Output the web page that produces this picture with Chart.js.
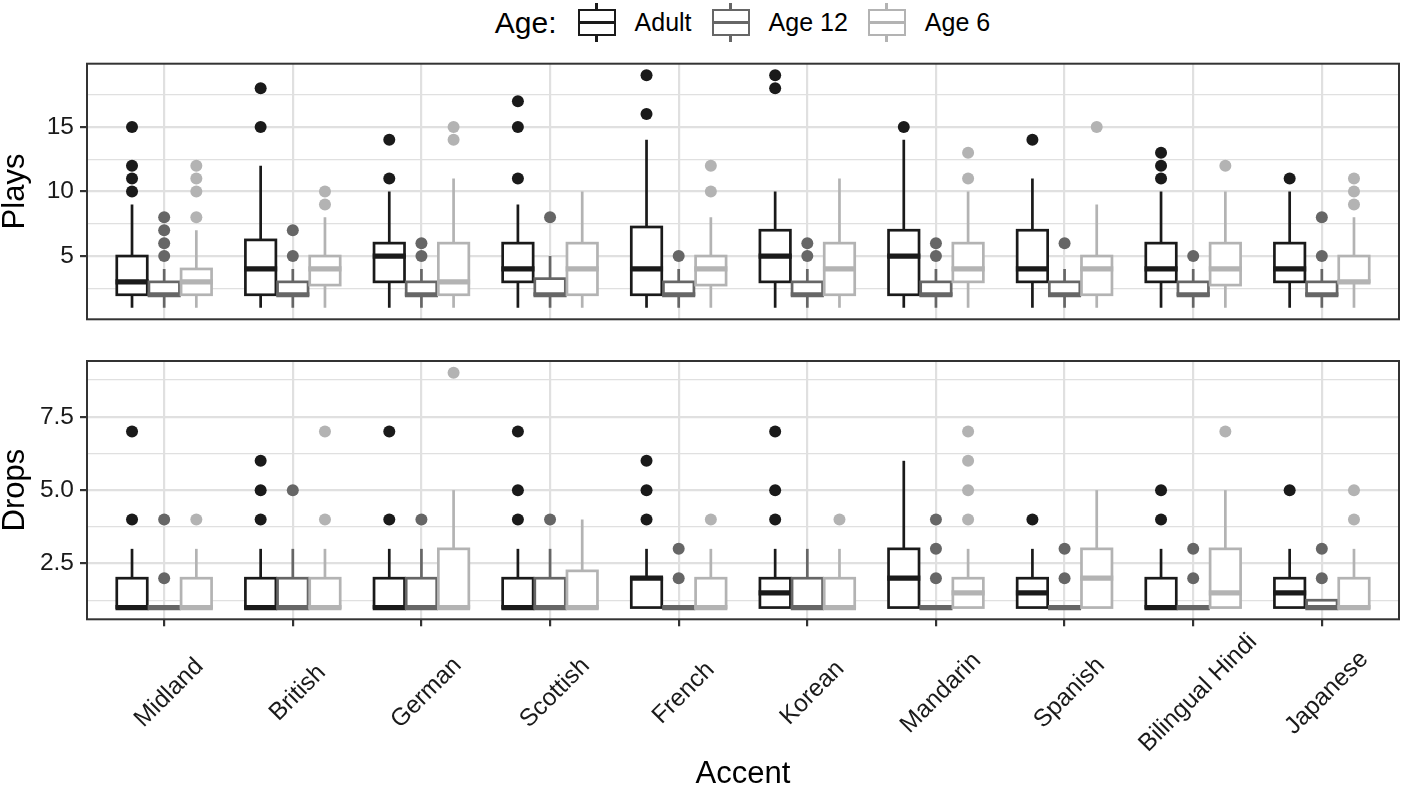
<!DOCTYPE html>
<html>
<head>
<meta charset="utf-8">
<script src="https://cdn.jsdelivr.net/npm/chart.js@4.4.1/dist/chart.umd.min.js"></script>
<style>
  html, body { margin: 0; padding: 0; background: #fff; }
  #wrap { position: relative; width: 1405px; height: 793px; font-family: "Liberation Sans", Arial, sans-serif; }
  #playsChart { position: absolute; left: 0; top: 0; }
  #dropsChart { position: absolute; left: 0; top: 340px; }
  #legend { position: absolute; left: 0; top: 3px; width: 1405px; height: 39px; box-sizing: border-box;
            padding-left: 80px; display: flex; align-items: center; justify-content: center; }
  #legend .title { font-size: 30px; margin-right: 21px; }
  #legend .label { font-size: 25px; margin-right: 20px; }
  #legend .label:last-child { margin-right: 0; }
  .glyph { position: relative; width: 38px; height: 39px; margin-right: 19px; }
  .glyph .box { position: absolute; left: 0; top: 6px; width: 38px; height: 27px; box-sizing: border-box; border: 2.7px solid; background: #fff; }
  .glyph .med { position: absolute; left: 0; top: 18.2px; width: 38px; height: 2.7px; }
  .glyph .wt { position: absolute; left: 17.65px; top: 0; width: 2.7px; height: 6px; }
  .glyph .wb { position: absolute; left: 17.65px; top: 33px; width: 2.7px; height: 6px; }
</style>
</head>
<body>
<div id="wrap">
  <div id="legend"></div>
  <canvas id="playsChart" width="1405" height="340"></canvas>
  <canvas id="dropsChart" width="1405" height="453"></canvas>
</div>
<script>
const accents = ["Midland", "British", "German", "Scottish", "French", "Korean", "Mandarin", "Spanish", "Bilingual Hindi", "Japanese"];
const ageGroups = ["Adult", "Age 12", "Age 6"];
const ageColors = ["#1a1a1a", "#666666", "#b3b3b3"];

// box stats per accent: [lower whisker, Q1, median, Q3, upper whisker]
const playsAdult = [[1,2,3,5,9], [1,2,4,6.25,12], [1,3,5,6,10], [1,3,4,6,9], [1,2,4,7.25,14], [1,3,5,7,10], [1,2,5,7,14], [1,3,4,7,11], [1,3,4,6,10], [1,3,4,6,10]];
const playsAge12 = [[1,2,2,3,4], [1,2,2,3,4], [1,2,2,3,4], [1,2,2,3.25,5], [1,2,2,3,4], [1,2,2,3,4], [1,2,2,3,4], [1,2,2,3,4], [1,2,2,3,4], [1,2,2,3,4]];
const playsAge6 = [[1,2,3,4,7], [1,2.75,4,5,8], [1,2,3,6,11], [1,2,4,6,10], [1,2.75,4,5,8], [1,2,4,6,11], [1,3,4,6,10], [1,2,4,5,9], [1,2.75,4,6,10], [1,3,3,5,8]];
const playsAdultOut = [[15,12,11,10], [18,15], [14,11], [17,15,11], [19,16], [19,18], [15], [14], [13,12,11], [11]];
const playsAge12Out = [[8,7,6,5], [7,5], [6,5], [8], [5], [6,5], [6,5], [6], [5], [8,5]];
const playsAge6Out = [[12,11,10,8], [10,9], [15,14], [], [12,10], [], [13,11], [15], [12], [11,10,9]];

const dropsAdult = [[1,1,1,2,3], [1,1,1,2,3], [1,1,1,2,3], [1,1,1,2,3], [1,1,2,2,3], [1,1,1.5,2,3], [1,1,2,3,6], [1,1,1.5,2,3], [1,1,1,2,3], [1,1,1.5,2,3]];
const dropsAge12 = [[1,1,1,1,1], [1,1,1,2,3], [1,1,1,2,3], [1,1,1,2,3], [1,1,1,1,1], [1,1,1,2,3], [1,1,1,1,1], [1,1,1,1,1], [1,1,1,1,1], [1,1,1,1.25,1.25]];
const dropsAge6 = [[1,1,1,2,3], [1,1,1,2,3], [1,1,1,3,5], [1,1,1,2.25,4], [1,1,1,2,3], [1,1,1,2,3], [1,1,1.5,2,3], [1,1,2,3,5], [1,1,1.5,3,5], [1,1,1,2,3]];
const dropsAdultOut = [[7,4], [6,5,4], [7,4], [7,5,4], [6,5,4], [7,5,4], [], [4], [5,4], [5]];
const dropsAge12Out = [[4,2], [5], [4], [4], [3,2], [], [4,3,2], [3,2], [3,2], [3,2]];
const dropsAge6Out = [[4], [7,4], [9], [], [4], [4], [7,6,5,4], [], [7], [5,4]];

const playsTickLabels = [5, 10, 15];
const dropsTickLabels = [2.5, 5.0, 7.5];

const FONT = '"Liberation Sans", Arial, sans-serif';
const dodge = [-0.25, 0, 0.25];
const boxWidth = 0.237;

// legend
const legend = document.getElementById("legend");
legend.innerHTML = '<span class="title">Age:</span>' + ageGroups.map((g, i) =>
  '<div class="glyph"><div class="wt" style="background:' + ageColors[i] + '"></div>' +
  '<div class="wb" style="background:' + ageColors[i] + '"></div>' +
  '<div class="box" style="border-color:' + ageColors[i] + '"></div>' +
  '<div class="med" style="background:' + ageColors[i] + '"></div></div>' +
  '<span class="label">' + g + '</span>').join("");

const boxPlugin = {
  id: "boxes",
  beforeDatasetsDraw(chart, args, opts) {
    const { ctx, scales: { x, y } } = chart;
    const half = x.getPixelForValue(boxWidth / 2) - x.getPixelForValue(0);
    opts.groups.forEach((rows, g) => {
      rows.forEach((s, i) => {
        const cx = x.getPixelForValue(i + dodge[g]);
        const [lo, q1, med, q3, hi] = s.map(v => y.getPixelForValue(v));
        ctx.save();
        ctx.strokeStyle = ageColors[g];
        ctx.lineWidth = 2.7;
        ctx.beginPath();
        ctx.moveTo(cx, lo); ctx.lineTo(cx, q1);
        ctx.moveTo(cx, q3); ctx.lineTo(cx, hi);
        ctx.stroke();
        ctx.fillStyle = "#fff";
        ctx.fillRect(cx - half, q3, 2 * half, q1 - q3);
        ctx.strokeRect(cx - half, q3, 2 * half, q1 - q3);
        ctx.lineWidth = 5.2;
        ctx.beginPath();
        ctx.moveTo(cx - half - 1.3, med); ctx.lineTo(cx + half + 1.3, med);
        ctx.stroke();
        ctx.restore();
      });
    });
  }
};

const framePlugin = {
  id: "frame",
  afterDatasetsDraw(chart) {
    const { ctx, chartArea: a } = chart;
    ctx.save();
    ctx.strokeStyle = "#333333";
    ctx.lineWidth = 2;
    ctx.strokeRect(a.left, a.top, a.right - a.left, a.bottom - a.top);
    ctx.restore();
  }
};

const xLabelPlugin = {
  id: "xLabels",
  afterDraw(chart) {
    const { ctx, scales: { x } } = chart;
    ctx.save();
    ctx.fillStyle = "#1a1a1a";
    ctx.font = "24.5px " + FONT;
    ctx.textAlign = "center";
    ctx.textBaseline = "middle";
    accents.forEach((name, i) => {
      ctx.save();
      ctx.translate(x.getPixelForValue(i) + 5, 353);
      ctx.rotate(-Math.PI / 4);
      ctx.fillText(name, 0, 0);
      ctx.restore();
    });
    ctx.fillStyle = "#000";
    ctx.font = "31px " + FONT;
    ctx.fillText("Accent", (chart.chartArea.left + chart.chartArea.right) / 2, 434);
    ctx.restore();
  }
};

function outlierPoints(outs, g) {
  const pts = [];
  outs.forEach((vals, i) => vals.forEach(v => pts.push({ x: i + dodge[g], y: v })));
  return pts;
}

function makeChart(id, cfg) {
  const datasets = cfg.outliers.map((outs, g) => ({
    label: ageGroups[g],
    data: outlierPoints(outs, g),
    backgroundColor: ageColors[g],
    borderWidth: 0,
    pointRadius: 6,
    pointHoverRadius: 6
  }));
  return new Chart(document.getElementById(id), {
    type: "scatter",
    data: { datasets },
    plugins: cfg.bottom ? [boxPlugin, framePlugin, xLabelPlugin] : [boxPlugin, framePlugin],
    options: {
      responsive: false,
      animation: false,
      layout: { padding: { top: cfg.padTop, right: 4, left: 0, bottom: 0 } },
      plugins: {
        legend: { display: false },
        tooltip: { enabled: false },
        boxes: { groups: cfg.groups }
      },
      scales: {
        x: {
          type: "linear",
          min: -0.6,
          max: 9.6,
          border: { display: false },
          grid: {
            color: "#e0e0e0",
            lineWidth: 2.2,
            drawTicks: cfg.bottom,
            tickLength: 7,
            tickColor: "#333333",
            tickWidth: 2.2
          },
          ticks: { display: false, stepSize: 1, includeBounds: false, autoSkip: false },
          afterFit: s => { s.height = cfg.xHeight; }
        },
        y: {
          min: cfg.min,
          max: cfg.max,
          border: { display: false },
          title: {
            display: true,
            text: cfg.title,
            color: "#000",
            padding: 0,
            font: { size: 31, family: FONT, lineHeight: 1 }
          },
          grid: {
            color: "#e0e0e0",
            lineWidth: c => (cfg.major.includes(c.tick.value) ? 2.2 : 1.2),
            tickLength: 7,
            tickColor: c => (cfg.major.includes(c.tick.value) ? "#333333" : "rgba(0,0,0,0)"),
            tickWidth: 2.2
          },
          ticks: {
            stepSize: cfg.step,
            includeBounds: false,
            autoSkip: false,
            padding: 6,
            color: "#1a1a1a",
            font: { size: 24.5, family: FONT },
            callback: v => (cfg.major.includes(v) ? cfg.fmt(v) : "")
          },
          afterFit: s => { s.width = 87; }
        }
      }
    }
  });
}

makeChart("playsChart", {
  title: "Plays",
  groups: [playsAdult, playsAge12, playsAge6],
  outliers: [playsAdultOut, playsAge12Out, playsAge6Out],
  min: 0.1, max: 19.9, step: 2.5,
  major: playsTickLabels, fmt: v => String(v),
  padTop: 63.7, xHeight: 18, bottom: false
});

makeChart("dropsChart", {
  title: "Drops",
  groups: [dropsAdult, dropsAge12, dropsAge6],
  outliers: [dropsAdultOut, dropsAge12Out, dropsAge6Out],
  min: 0.6, max: 9.4, step: 1.25,
  major: dropsTickLabels, fmt: v => v.toFixed(1),
  padTop: 21, xHeight: 173.7, bottom: true
});
</script>
</body>
</html>
